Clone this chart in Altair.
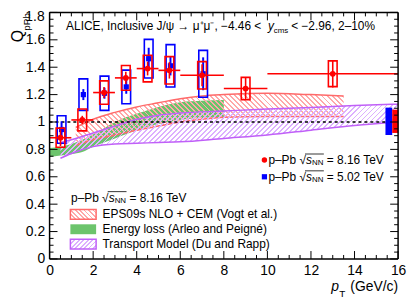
import altair as alt
import pandas as pd

FONT = "Liberation Sans"

# ---------------- data: p-Pb 8.16 TeV (red) ----------------
R_PT = [0.5, 1.5, 2.5, 3.5, 4.5, 5.5, 7.0, 9.0, 13.0]
R_BIN_LO = [0, 1, 2, 3, 4, 5, 6, 8, 10]
R_BIN_HI = [1, 2, 3, 4, 5, 6, 8, 10, 16]
R_Q = [0.885, 1.015, 1.215, 1.322, 1.39, 1.377, 1.341, 1.244, 1.352]
R_STAT = [0.06, 0.03, 0.04, 0.045, 0.05, 0.06, 0.08, 0.08, 0.10]
R_SYS = [0.07, 0.08, 0.085, 0.09, 0.097, 0.10, 0.10, 0.082, 0.094]

# ---------------- data: p-Pb 5.02 TeV (blue) ----------------
B_PT = [0.55, 1.55, 2.52, 3.52, 4.55, 5.55, 7.05]
B_Q = [0.945, 1.20, 1.21, 1.256, 1.462, 1.41, 1.352]
B_STAT = [0.06, 0.04, 0.04, 0.05, 0.08, 0.07, 0.12]
B_SYS = [0.10, 0.115, 0.125, 0.123, 0.141, 0.155, 0.171]

BOX_HALF = 0.2

# global uncertainties
R_GLOB_X = [15.73, 16.0]
R_GLOB_Y = [0.92, 1.09]
B_GLOB_X = [15.42, 15.73]
B_GLOB_Y = [0.905, 1.105]

# ---------------- models ----------------
EPS_PT = [1.2, 2, 3, 4, 5, 6, 7, 8, 10, 12, 13.5]
EPS_LO = [0.83, 0.87, 0.905, 0.94, 0.97, 1.0, 1.02, 1.035, 1.04, 1.04, 1.04]
EPS_HI = [0.96, 1.02, 1.07, 1.11, 1.14, 1.17, 1.19, 1.20, 1.21, 1.20, 1.19]

ELOSS_PT = [0, 0.5, 1, 1.5, 2, 2.5, 3, 3.5, 4, 4.5, 5, 5.5, 6, 7, 8]
ELOSS_LO = [0.745, 0.755, 0.765, 0.78, 0.82, 0.85, 0.88, 0.91, 0.94, 0.965, 0.985, 1.0, 1.015, 1.03, 1.035]
ELOSS_HI = [0.81, 0.82, 0.84, 0.87, 0.91, 0.955, 1.0, 1.035, 1.06, 1.085, 1.11, 1.13, 1.145, 1.155, 1.16]

TRANS_PT = [0.5, 1, 2, 3, 4, 5, 6, 8, 10, 12, 14, 16]
TRANS_LO = [0.735, 0.77, 0.82, 0.84, 0.845, 0.85, 0.855, 0.88, 0.905, 0.94, 0.975, 1.0]
TRANS_HI = [0.85, 0.87, 0.92, 0.97, 1.02, 1.05, 1.065, 1.08, 1.095, 1.105, 1.12, 1.13]

# axes
X_MAJOR = [0, 2, 4, 6, 8, 10, 12, 14, 16]
Y_MAJOR = [0, 0.2, 0.4, 0.6, 0.8, 1.0, 1.2, 1.4, 1.6, 1.8]
X_MINOR = [a + k * 0.5 for a in X_MAJOR[:-1] for k in (1, 2, 3)]
Y_MINOR = [round(a + k * 0.05, 3) for a in Y_MAJOR[:-1] for k in (1, 2, 3)]

W, H = 352, 249
PX_X = W / 16.0
PX_Y = H / 1.8

xs = alt.Scale(domain=[0, 16], nice=False, zero=False)
ys = alt.Scale(domain=[0, 1.8], nice=False, zero=False)

X_AXIS = alt.Axis(values=X_MAJOR, orient="bottom", ticks=False, domain=False, grid=False,
                  labelFont=FONT, labelFontSize=14, labelColor="black", zindex=2,
                  labelPadding=5, labelFlush=False, labelOverlap=False, title=None)
# top label (1.8) is drawn separately, slightly lowered so it stays on the page
Y_AXIS = alt.Axis(values=Y_MAJOR, orient="left", ticks=False, domain=False, grid=False,
                  format=".2~g", labelExpr="datum.value > 1.75 ? '' : datum.label",
                  labelFont=FONT, labelFontSize=14, labelColor="black", zindex=2,
                  labelPadding=5, labelFlush=False, labelOverlap=False, title=None)


def X(f, **kw):
    return alt.X(f, type="quantitative", scale=xs, axis=X_AXIS, **kw)


def Y(f, **kw):
    return alt.Y(f, type="quantitative", scale=ys, axis=Y_AXIS, **kw)


def hatch(w, h, color, direction, period=3.6, duty=0.38):
    """Striped linear gradient imitating a ROOT hatch over a box of w x h pixels."""
    k = (w + h) / (w * w + h * h)
    if direction == "\\":
        x1, y1, x2, y2 = 0.0, 1.0, k * w, 1.0 - k * h
    else:
        x1, y1, x2, y2 = 0.0, 0.0, k * w, k * h
    n = max(1, int(round((w + h) / (period * 1.41421356))))
    clear = "rgba(255,255,255,0)"
    stops = []
    for i in range(n):
        a = i / n
        b = (i + duty) / n
        c = (i + 1) / n
        stops += [alt.GradientStop(offset=a, color=color), alt.GradientStop(offset=b, color=color),
                  alt.GradientStop(offset=b, color=clear), alt.GradientStop(offset=c, color=clear)]
    return alt.LinearGradient(gradient="linear", stops=stops, x1=x1, y1=y1, x2=x2, y2=y2)


red = pd.DataFrame({"pt": R_PT, "lo": R_BIN_LO, "hi": R_BIN_HI, "q": R_Q,
                    "s": R_STAT, "sy": R_SYS})
red["qlo"] = red.q - red.s
red["qhi"] = red.q + red.s
red["bylo"] = red.q - red.sy
red["byhi"] = red.q + red.sy
red["bxlo"] = red.pt - BOX_HALF
red["bxhi"] = red.pt + BOX_HALF

blue = pd.DataFrame({"pt": B_PT, "q": B_Q, "s": B_STAT, "sy": B_SYS})
blue["qlo"] = blue.q - blue.s
blue["qhi"] = blue.q + blue.s
blue["bylo"] = blue.q - blue.sy
blue["byhi"] = blue.q + blue.sy
blue["bxlo"] = blue.pt - BOX_HALF
blue["bxhi"] = blue.pt + BOX_HALF

eps = pd.DataFrame({"pt": EPS_PT, "lo": EPS_LO, "hi": EPS_HI})
eloss = pd.DataFrame({"pt": ELOSS_PT, "lo": ELOSS_LO, "hi": ELOSS_HI})
trans = pd.DataFrame({"pt": TRANS_PT, "lo": TRANS_LO, "hi": TRANS_HI})
glob = pd.DataFrame({"x1": [B_GLOB_X[0], R_GLOB_X[0]], "x2": [B_GLOB_X[1], R_GLOB_X[1]],
                     "y1": [B_GLOB_Y[0], R_GLOB_Y[0]], "y2": [B_GLOB_Y[1], R_GLOB_Y[1]],
                     "c": ["b", "r"]})
ONE = pd.DataFrame({"a": [0]})

RED = "#ff0000"
BLUE = "#0000ff"
EPS_LINE = "#ff6a6a"
EPS_HATCH = "#ffa8a8"
GREEN = "#6cc46c"
VIO_LINE = "#c060f8"
VIO_HATCH = "#dcb0ff"

eps_w = (max(EPS_PT) - min(EPS_PT)) * PX_X
eps_h = (max(EPS_HI) - min(EPS_LO)) * PX_Y
tr_w = (max(TRANS_PT) - min(TRANS_PT)) * PX_X
tr_h = (max(TRANS_HI) - min(TRANS_LO)) * PX_Y

layers = []

# energy loss (green)
layers.append(alt.Chart(eloss).mark_area(color=GREEN, opacity=1, interpolate="monotone").encode(
    x=X("pt"), y=Y("lo"), y2="hi"))
# EPS09s band (hatched)
layers.append(alt.Chart(eps).mark_area(fill=hatch(eps_w, eps_h, EPS_HATCH, "\\"), interpolate="monotone").encode(
    x=X("pt"), y=Y("lo"), y2="hi"))
for f in ("lo", "hi"):
    layers.append(alt.Chart(eps).mark_line(color=EPS_LINE, strokeWidth=1.5, interpolate="monotone").encode(
        x=X("pt"), y=Y(f)))
# transport band (hatched)
layers.append(alt.Chart(trans).mark_area(fill=hatch(tr_w, tr_h, VIO_HATCH, "/"), interpolate="monotone").encode(
    x=X("pt"), y=Y("lo"), y2="hi"))
for f in ("lo", "hi"):
    layers.append(alt.Chart(trans).mark_line(color=VIO_LINE, strokeWidth=1.5, interpolate="monotone").encode(
        x=X("pt"), y=Y(f)))

# dashed unity line
layers.append(alt.Chart(ONE).mark_rule(color="black", strokeWidth=1.5, strokeDash=[3, 3]).encode(
    x=alt.datum(0, scale=xs, axis=X_AXIS), x2=alt.datum(16), y=alt.datum(1, scale=ys, axis=Y_AXIS)))

# global boxes
layers.append(alt.Chart(glob).mark_rect().encode(
    x=X("x1"), x2="x2", y=Y("y1"), y2="y2",
    color=alt.Color("c:N", scale=alt.Scale(domain=["b", "r"], range=[BLUE, RED]), legend=None)))

# blue syst boxes, stat, points
layers.append(alt.Chart(blue).mark_rect(fill="white", fillOpacity=0, stroke=BLUE, strokeWidth=1.6).encode(
    x=X("bxlo"), x2="bxhi", y=Y("bylo"), y2="byhi"))
layers.append(alt.Chart(blue).mark_rule(color=BLUE, strokeWidth=2).encode(
    x=X("pt"), y=Y("qlo"), y2="qhi"))
layers.append(alt.Chart(blue).mark_point(shape="square", filled=True, color=BLUE, size=28, opacity=1).encode(
    x=X("pt"), y=Y("q")))

# red syst boxes, stat, points
layers.append(alt.Chart(red).mark_rect(fill="white", fillOpacity=0, stroke=RED, strokeWidth=1.6).encode(
    x=X("bxlo"), x2="bxhi", y=Y("bylo"), y2="byhi"))
layers.append(alt.Chart(red).mark_rule(color=RED, strokeWidth=1.6).encode(
    x=X("pt"), y=Y("qlo"), y2="qhi"))
layers.append(alt.Chart(red).mark_rule(color=RED, strokeWidth=1.6).encode(
    x=X("lo"), x2="hi", y=Y("q")))
layers.append(alt.Chart(red).mark_point(shape="circle", filled=True, color=RED, size=34, opacity=1).encode(
    x=X("pt"), y=Y("q")))


# ticks (inside frame, ROOT style)
def yticks(vals, x0, x1):
    return alt.Chart(pd.DataFrame({"v": vals})).mark_rule(color="black", strokeWidth=1).encode(
        y=Y("v"), x=alt.value(x0), x2=alt.value(x1))


def xticks(vals, y0, y1):
    return alt.Chart(pd.DataFrame({"v": vals})).mark_rule(color="black", strokeWidth=1).encode(
        x=X("v"), y=alt.value(y0), y2=alt.value(y1))


layers += [yticks(Y_MAJOR, 0, 8), yticks(Y_MINOR, 0, 4),
           yticks(Y_MAJOR, W - 8, W), yticks(Y_MINOR, W - 4, W),
           xticks(X_MAJOR, H, H - 8), xticks(X_MINOR, H, H - 4),
           xticks(X_MAJOR, 0, 8), xticks(X_MINOR, 0, 4)]


def prule(x1, x2, y1, y2, w=1.5, color="black"):
    return alt.Chart(ONE).mark_rule(color=color, strokeWidth=w).encode(
        x=alt.value(x1), x2=alt.value(x2), y=alt.value(y1), y2=alt.value(y2))


# frame
layers += [prule(0, W, 0, 0), prule(0, W, H, H), prule(0, 0, 0, H), prule(W, W, 0, H)]


def txt(s, x, y, size=12, align="left", italic=False, angle=0, color="black", baseline="middle"):
    kw = dict(text=s, align=align, baseline=baseline, font=FONT, fontSize=size, color=color)
    if italic:
        kw["fontStyle"] = "italic"
    if angle:
        kw["angle"] = angle
    return alt.Chart(ONE).mark_text(**kw).encode(x=alt.value(x), y=alt.value(y))


def rect(x1, x2, y1, y2, fill, stroke=None):
    kw = dict(fill=fill)
    if stroke:
        kw.update(stroke=stroke, strokeWidth=1.5)
    return alt.Chart(ONE).mark_rect(**kw).encode(
        x=alt.value(x1), x2=alt.value(x2), y=alt.value(y1), y2=alt.value(y2))


def sqrt_label(x, y, energy):
    return [txt("p–Pb √", x, y),
            txt("s", x + 38, y, italic=True),
            txt("NN", x + 44, y + 3, size=8),
            prule(x + 37, x + 56, y - 6, y - 6, w=0.8),
            txt("= " + energy + " TeV", x + 59, y)]


# top y label
layers.append(txt("1.8", -5, -2, size=14, align="right", baseline="top"))

# header
layers += [txt("ALICE, Inclusive J/ψ → μ⁺μ⁻, −4.46 < ", 16.7, 14),
           txt("y", 220.5, 14, italic=True),
           txt("cms", 226.5, 18.5, size=8),
           txt("< −2.96, 2–10%", 244, 14)]

# axis titles
layers += [txt("Q", -32, 24, size=16, align="center", angle=270),
           txt("pPb", -22.5, 9.5, size=10, align="center", angle=270),
           txt("p", 284.5, 277, size=14, italic=True),
           txt("T", 292.5, 284, size=10),
           txt("(GeV/c)", 352, 277, size=14, align="right")]

# right legend (data)
layers.append(alt.Chart(ONE).mark_point(shape="circle", filled=True, color=RED, size=30, opacity=1).encode(
    x=alt.value(217), y=alt.value(149)))
layers.append(alt.Chart(ONE).mark_point(shape="square", filled=True, color=BLUE, size=28, opacity=1).encode(
    x=alt.value(217), y=alt.value(166)))
layers += sqrt_label(221, 149, "8.16")
layers += sqrt_label(221, 166, "5.02")

# left legend (models)
layers += sqrt_label(21.7, 187, "8.16")
layers += [rect(21, 47, 199, 209, hatch(26, 10, EPS_HATCH, "\\", period=3.2), EPS_LINE),
           rect(21, 47, 214, 224, GREEN),
           rect(21, 47, 229, 239, hatch(26, 10, VIO_HATCH, "/", period=3.2), VIO_LINE),
           txt("EPS09s NLO + CEM (Vogt et al.)", 53.5, 204),
           txt("Energy loss (Arleo and Peigné)", 53.5, 219),
           txt("Transport Model (Du and Rapp)", 53.5, 234)]

chart = alt.layer(*layers).properties(
    width=W, height=H,
    autosize=alt.AutoSizeParams(type="none"),
    padding={"left": 42, "top": 3, "right": 9, "bottom": 41},
).configure_view(strokeWidth=0)

chart.save("out.html", embed_options={"renderer": "svg", "actions": False})
